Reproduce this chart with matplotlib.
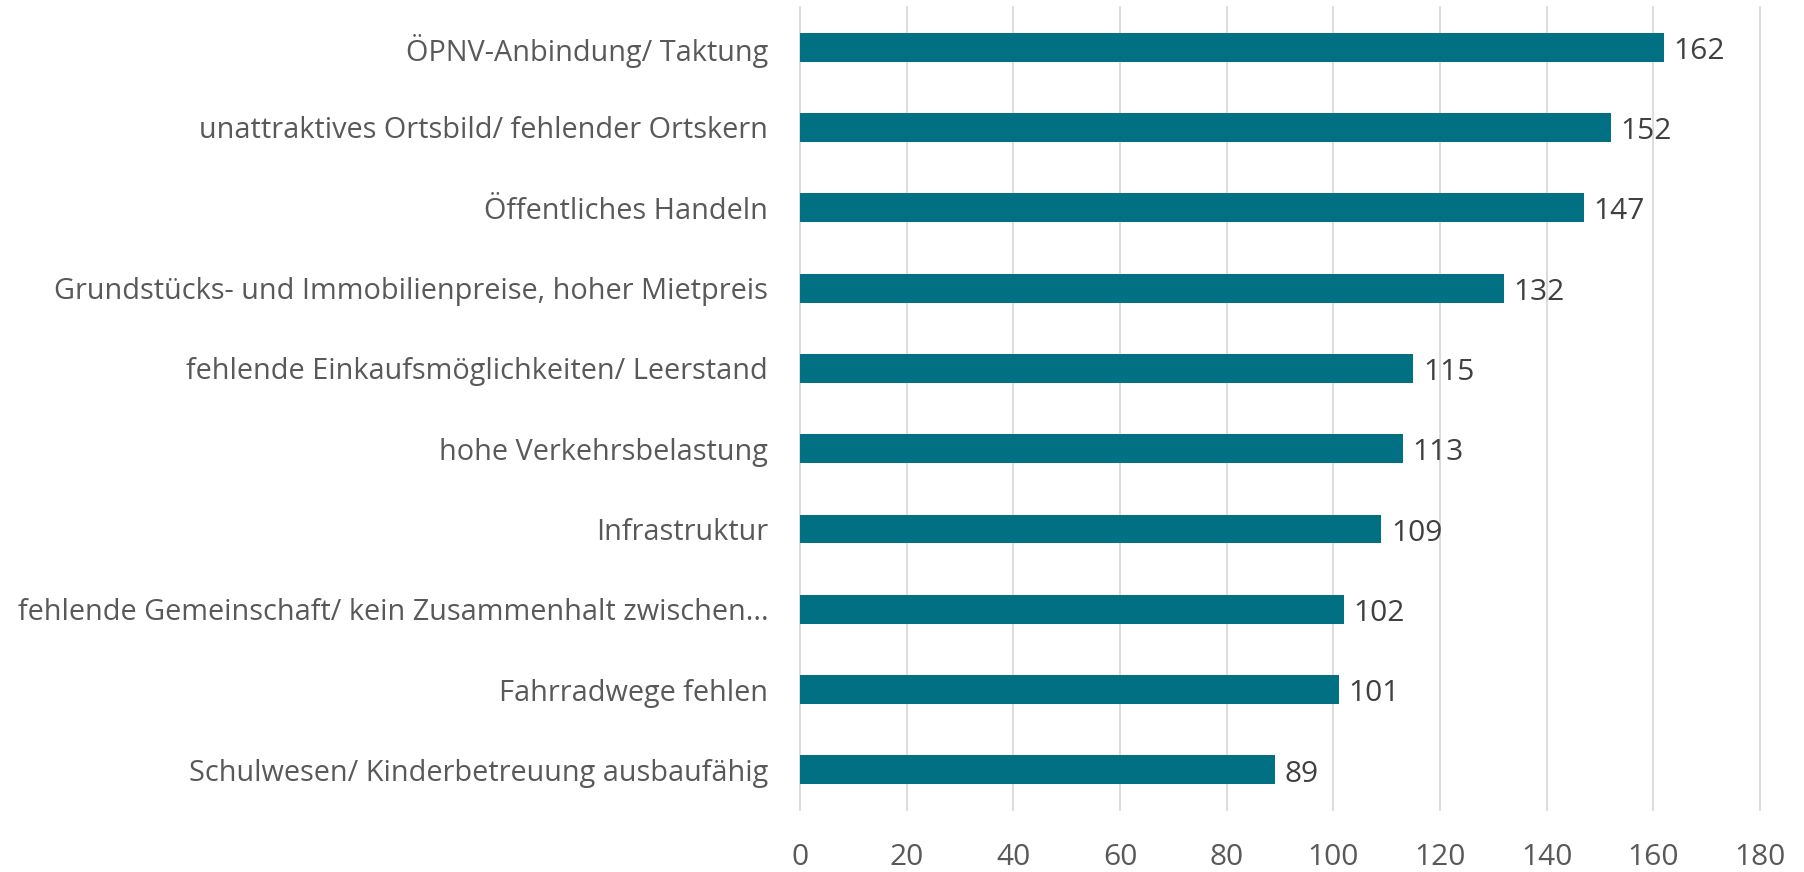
import numpy as np
import matplotlib.pyplot as plt

plt.rcParams['font.family'] = ['Open Sans', 'DejaVu Sans']

categories = [
    'ÖPNV-Anbindung/ Taktung',
    'unattraktives Ortsbild/ fehlender Ortskern',
    'Öffentliches Handeln',
    'Grundstücks- und Immobilienpreise, hoher Mietpreis',
    'fehlende Einkaufsmöglichkeiten/ Leerstand',
    'hohe Verkehrsbelastung',
    'Infrastruktur',
    'fehlende Gemeinschaft/ kein Zusammenhalt zwischen...',
    'Fahrradwege fehlen',
    'Schulwesen/ Kinderbetreuung ausbaufähig',
]
values = [162, 152, 147, 132, 115, 113, 109, 102, 101, 89]
xticks = [0, 20, 40, 60, 80, 100, 120, 140, 160, 180]

barColor = '#007082'
textColor = '#595959'

fig = plt.figure(figsize=(18.04, 8.72), dpi=100)
ax = fig.add_axes([0.4435, 0.071, 0.532, 0.921])

y = np.arange(len(categories))
ax.barh(y, values, height=0.36, color=barColor, zorder=3)

for yi, v in zip(y, values):
    ax.annotate(str(v), xy=(v, yi), xytext=(7, -3), textcoords='offset points',
                va='center', ha='left', fontsize=21.5, color='#404040')

ax.set_xlim(0, 180)
ax.set_ylim(len(categories) - 0.5, -0.5)
ax.set_xticks(xticks)
ax.set_yticks(y)
ax.set_yticklabels(categories)
ax.grid(axis='x', color='#d9d9d9', linewidth=1.3, zorder=0)
ax.tick_params(axis='both', length=0, labelsize=21.5, colors=textColor)
ax.tick_params(axis='y', pad=23, labelsize=20.8)
ax.tick_params(axis='x', pad=24)
for s in ax.spines.values():
    s.set_visible(False)
for gl in ax.get_xgridlines():
    gl.set_clip_on(False)

fig.savefig('out.png', dpi=100)
